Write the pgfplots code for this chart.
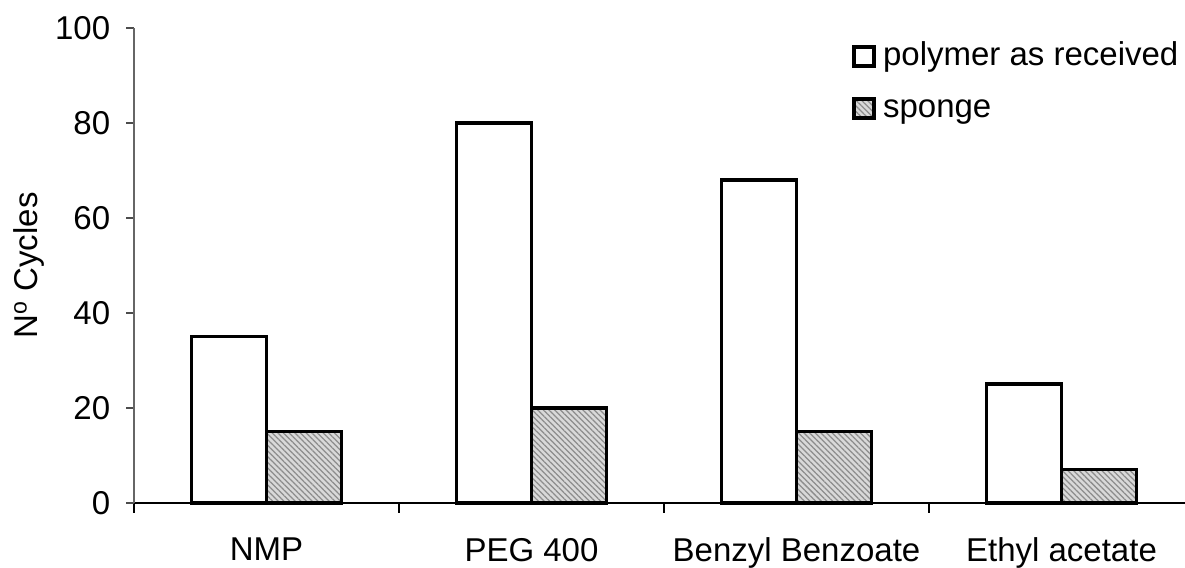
\documentclass[border=0pt]{standalone}
\usepackage{fontspec}
\setmainfont{Liberation Sans}
\usepackage{pgfplots}
\pgfplotsset{compat=1.18}
\usetikzlibrary{patterns.meta}
\begin{document}
\begin{tikzpicture}
\begin{axis}[
  scale only axis,
  width=420.4pt, height=190pt,
  xmin=-0.5, xmax=3.466, ymin=0, ymax=100,
  axis x line=bottom, axis y line=left,
  x axis line style={-, line width=0.45pt, black},
  y axis line style={-, line width=0.45pt, black!60},
  ybar=0pt, bar width=30pt,
  xtick={0,1,2,3},
  xticklabels={NMP, PEG 400, Benzyl Benzoate, Ethyl acetate},
  major x tick style={draw=none},
  minor xtick={-0.5,0.5,1.5,2.5},
  minor tick length=4pt,
  minor x tick style={black, line width=0.6pt},
  ytick={0,20,...,100},
  major tick length=3pt,
  tick align=outside,
  y tick style={black!70, line width=0.45pt},
  font=\fontsize{13.2}{15}\selectfont,
  /pgf/number format/assume math mode=true,
  xticklabel style={yshift=-7.5pt},
  yticklabel style={xshift=-3pt},
  ylabel={N\textsuperscript{o} Cycles},
  ylabel style={at={(axis description cs:-0.1,0.5)}, anchor=center},
  legend style={draw=none, fill=none, at={(rel axis cs:0.683,0.975)}, anchor=north west,
    font=\fontsize{13.2}{15}\selectfont, row sep=7.8pt, column sep=3pt, inner sep=0pt,
    nodes={inner sep=0pt, text height=10pt, text depth=3pt}},
  legend cell align=left,
  legend image code/.code={\draw[#1, line width=1.5pt] (0.75pt,-3.9pt) rectangle (8.55pt,3.9pt);},
  clip=false,
]
\addplot[draw=black, line width=1.4pt, fill=white] coordinates {(0,35) (1,80) (2,68) (3,25)};
\addplot[draw=black, line width=1.4pt, fill=gray!30,
  postaction={pattern={Lines[angle=-45, distance=1.6pt, line width=0.5pt]}, pattern color=gray!90}]
  coordinates {(0,15) (1,20) (2,15) (3,7)};
\legend{polymer as received, sponge}
\coordinate (ll) at (rel axis cs:0,0);
\coordinate (ur) at (rel axis cs:1,1);
\end{axis}
\pgfresetboundingbox
\path ([shift={(-53.6pt,-26pt)}]ll) rectangle ([shift={(0pt,11.2pt)}]ur);
\end{tikzpicture}
\end{document}
